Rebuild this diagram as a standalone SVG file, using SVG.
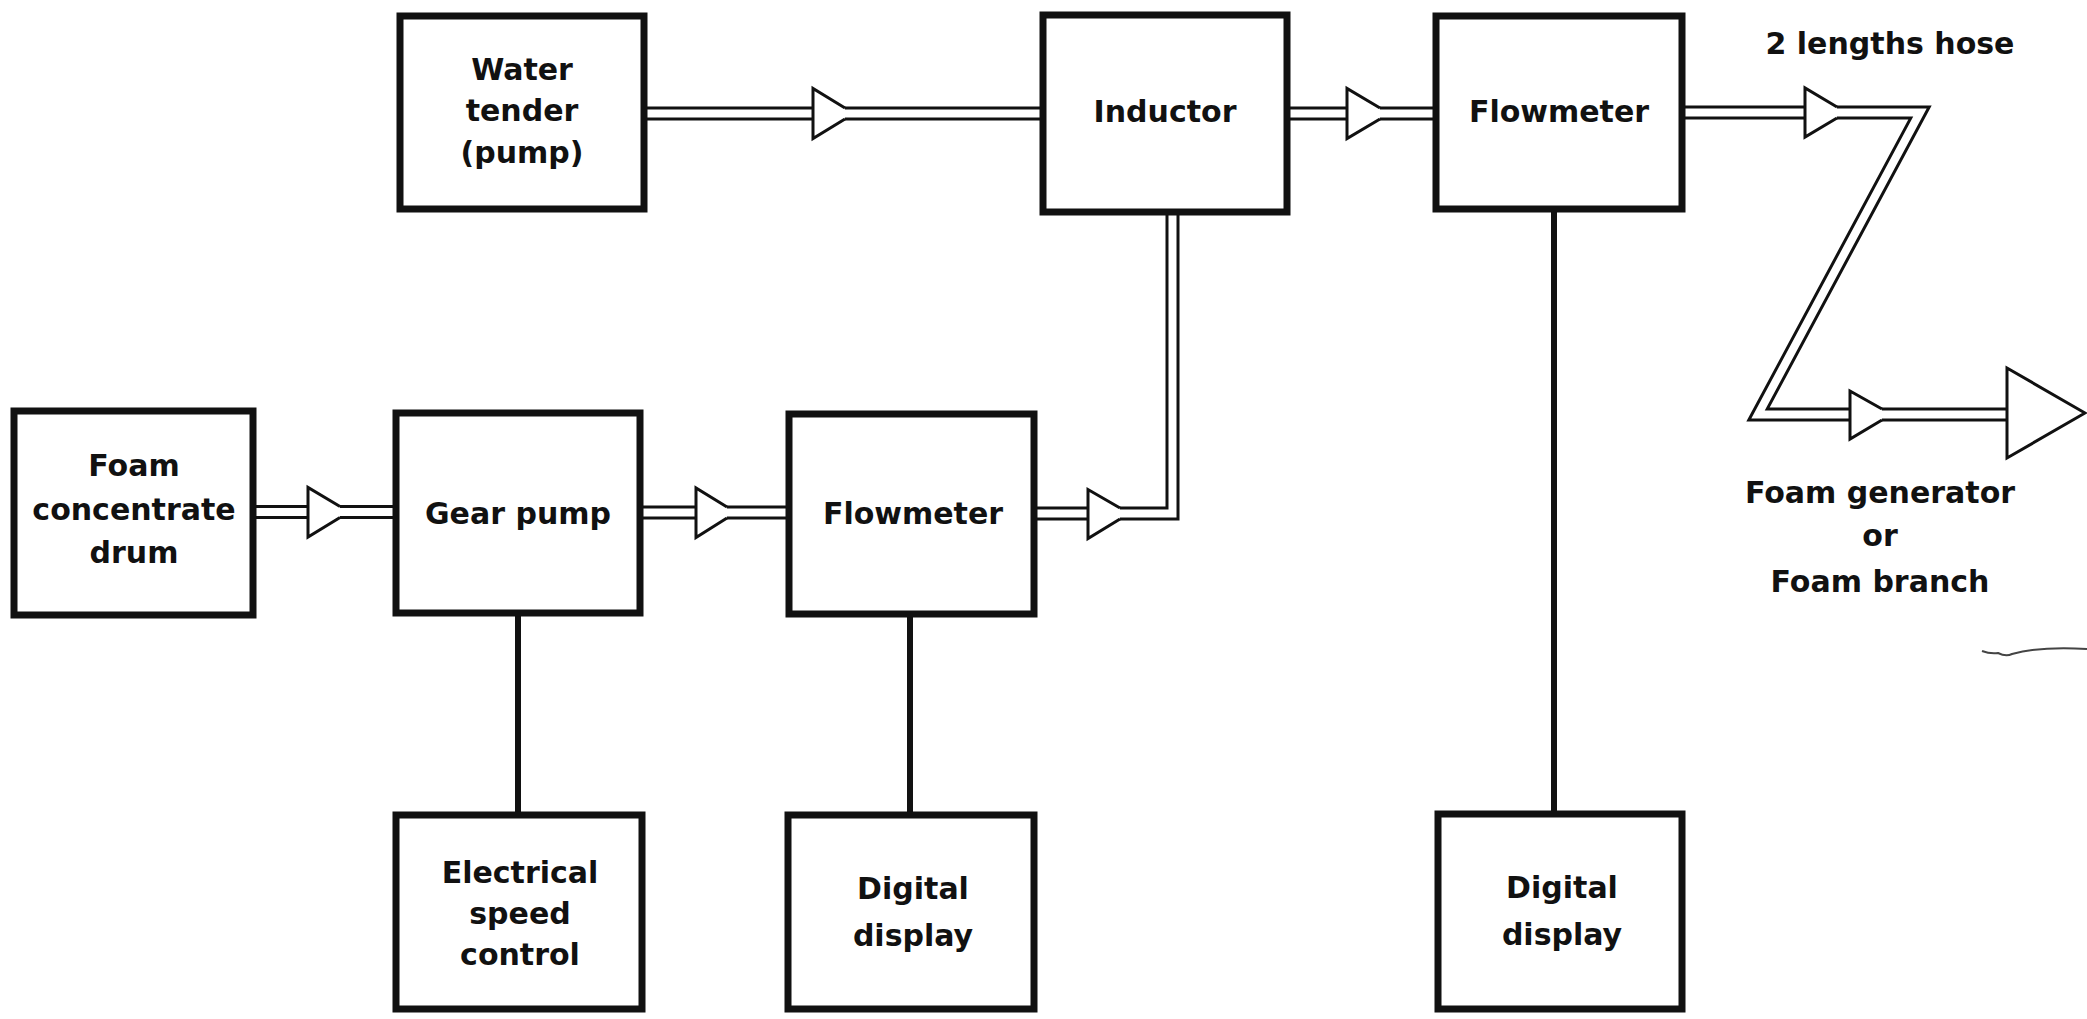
<svg xmlns="http://www.w3.org/2000/svg" width="2087" height="1019" viewBox="0 0 2087 1019">
<style>
.box{fill:#fff;stroke:#111;stroke-width:7}
.t{font-family:"DejaVu Sans","Liberation Sans",sans-serif;font-size:30px;font-weight:bold;text-anchor:middle;fill:#111}
.po{fill:none;stroke:#111;stroke-width:14;stroke-linejoin:miter;stroke-miterlimit:10}
.pi{fill:none;stroke:#fff;stroke-width:8;stroke-linejoin:miter;stroke-miterlimit:10}
.arr{fill:#fff;stroke:#111;stroke-width:3;stroke-linejoin:miter}
.wire{fill:none;stroke:#111;stroke-width:6}
</style>
<rect width="2087" height="1019" fill="#fff"/>
<g id="connectors">
  <!-- water tender -> inductor -->
  <path class="po" d="M647,113.5 H1040"/><path class="pi" d="M647,113.5 H1040"/>
  <path class="arr" d="M845,108 L813,88.5 L813,138.5 L845,119"/>
  <!-- inductor -> flowmeter top -->
  <path class="po" d="M1290,113.5 H1433"/><path class="pi" d="M1290,113.5 H1433"/>
  <path class="arr" d="M1380,108 L1347,88.5 L1347,138.5 L1380,119"/>
  <!-- flowmeter top -> hose -> foam generator -->
  <path class="po" d="M1685,112.5 H1920 L1758,414.5 H2007"/><path class="pi" d="M1685,112.5 H1920 L1758,414.5 H2007"/>
  <path class="arr" d="M1837,107 L1805,88 L1805,137 L1837,118"/>
  <path class="arr" d="M1882,409 L1850,391 L1850,439 L1882,420"/>
  <path class="arr" d="M2007,368 L2085,413 L2007,458 Z"/>
  <!-- foam drum -> gear pump -->
  <path class="po" d="M256,512 H394"/><path class="pi" d="M256,512 H394"/>
  <path class="arr" d="M340,506.5 L308,487.5 L308,537 L340,517.5"/>
  <!-- gear pump -> flowmeter -->
  <path class="po" d="M643,512.5 H786"/><path class="pi" d="M643,512.5 H786"/>
  <path class="arr" d="M727,507 L696,488 L696,537.5 L727,518"/>
  <!-- flowmeter -> inductor -->
  <path class="po" d="M1037,513.5 H1172.5 V214"/><path class="pi" d="M1037,513.5 H1172.5 V214"/>
  <path class="arr" d="M1120,508 L1088,489.5 L1088,538.5 L1120,519"/>
  <!-- signal wires -->
  <path class="wire" d="M518,616 V812"/>
  <path class="wire" d="M910,617 V812"/>
  <path class="wire" d="M1554,212 V811"/>
</g>
<g id="water-tender"><rect class="box" x="400" y="16" width="244" height="193"/>
  <text class="t" x="522" y="80">Water</text><text class="t" x="522" y="121">tender</text><text class="t" x="522" y="163">(pump)</text></g>
<g id="inductor"><rect class="box" x="1043" y="15" width="244" height="197"/>
  <text class="t" x="1165" y="122">Inductor</text></g>
<g id="flowmeter-top"><rect class="box" x="1436" y="16" width="246" height="193"/>
  <text class="t" x="1559" y="122">Flowmeter</text></g>
<g id="foam-drum"><rect class="box" x="14" y="411" width="239" height="204"/>
  <text class="t" x="134" y="476">Foam</text><text class="t" x="134" y="520">concentrate</text><text class="t" x="134" y="563">drum</text></g>
<g id="gear-pump"><rect class="box" x="396" y="413" width="244" height="200"/>
  <text class="t" x="518" y="524">Gear pump</text></g>
<g id="flowmeter-mid"><rect class="box" x="789" y="414" width="245" height="200"/>
  <text class="t" x="913" y="524">Flowmeter</text></g>
<g id="speed-control"><rect class="box" x="396" y="815" width="246" height="194"/>
  <text class="t" x="520" y="883">Electrical</text><text class="t" x="520" y="924">speed</text><text class="t" x="520" y="965">control</text></g>
<g id="display-mid"><rect class="box" x="788" y="815" width="246" height="194"/>
  <text class="t" x="913" y="899">Digital</text><text class="t" x="913" y="946">display</text></g>
<g id="display-right"><rect class="box" x="1438" y="814" width="244" height="195"/>
  <text class="t" x="1562" y="898">Digital</text><text class="t" x="1562" y="945">display</text></g>
<g id="labels">
  <text class="t" x="1890" y="54">2 lengths hose</text>
  <text class="t" x="1880" y="503">Foam generator</text>
  <text class="t" x="1880" y="546">or</text>
  <text class="t" x="1880" y="592">Foam branch</text>
</g>
<path d="M1982,651 q8,3 16,2 q8,4 14,1 q30,-8 75,-5" fill="none" stroke="#444" stroke-width="2"/>
</svg>
